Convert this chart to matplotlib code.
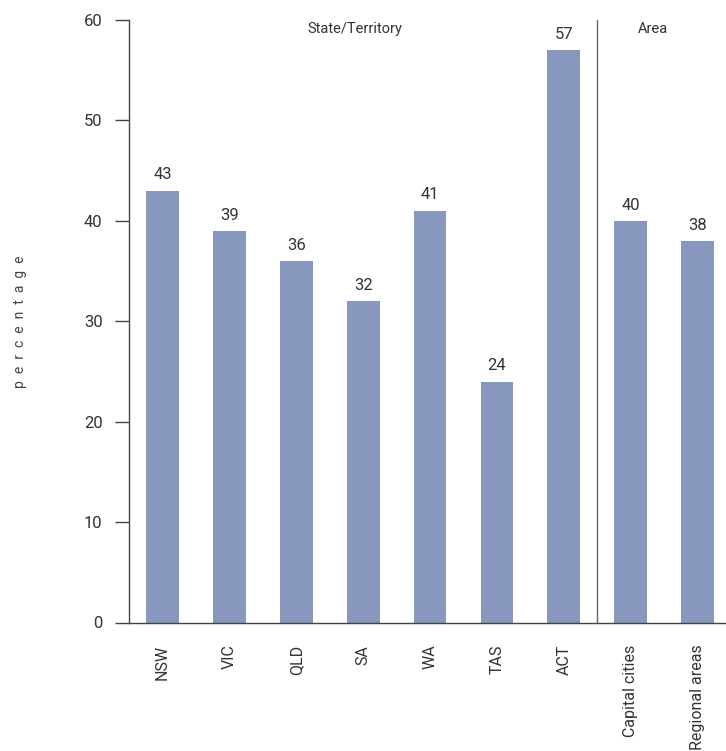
import matplotlib
matplotlib.use("Agg")
import matplotlib.pyplot as plt

categories = ["NSW", "VIC", "QLD", "SA", "WA", "TAS", "ACT", "Capital cities", "Regional areas"]
values = [43, 39, 36, 32, 41, 24, 57, 40, 38]
yticks = [0, 10, 20, 30, 40, 50, 60]

plt.rcParams['font.family'] = ['Roboto', 'DejaVu Sans']
txt = "#333333"

fig = plt.figure(figsize=(7.26, 7.51), dpi=100)
W, H = 726, 751
left, right = 129.1, 731.0
bottom, top = 622.5, 20.0
ax = fig.add_axes([left / W, 1 - bottom / H, (right - left) / W, (bottom - top) / H])

x = list(range(len(categories)))
bars = ax.bar(x, values, width=0.49, color="#8797be", zorder=2)
for xi, v in zip(x, values):
    ax.annotate(str(v), (xi, v), xytext=(0, 6), textcoords="offset points",
                ha="center", va="bottom", fontsize=12, color=txt)

ax.set_xlim(-0.5, 8.5)
ax.set_ylim(0, 60)
ax.set_yticks(yticks)
ax.set_xticks(x)
ax.set_xticklabels(categories, rotation=90, fontsize=11.5, color=txt)
ax.tick_params(axis="x", length=0, pad=16)
ax.tick_params(axis="y", length=10, width=1, color="#444444", pad=9, labelsize=12, labelcolor=txt)

for s in ["top", "right"]:
    ax.spines[s].set_visible(False)
for s in ["left", "bottom"]:
    ax.spines[s].set_color("#444444")
    ax.spines[s].set_linewidth(1)

ax.plot([6.5, 6.5], [0, 60], color="#666666", lw=1, zorder=3)
ax.text(2.87, 59.1, "State/Territory", ha="center", va="center", fontsize=10.5, color=txt)
ax.text(7.33, 59.1, "Area", ha="center", va="center", fontsize=10.5, color=txt)

fig.text(20 / W, 1 - 322 / H, "p  e  r  c  e  n  t  a  g  e", rotation=90, ha="center", va="center",
         fontsize=10, color="#444444")

fig.savefig("out.png", dpi=100)
